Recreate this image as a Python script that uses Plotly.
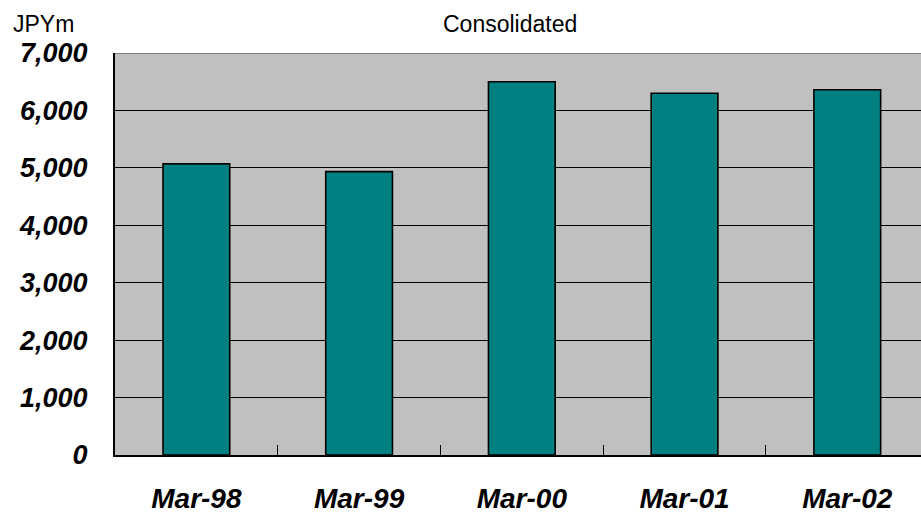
import plotly.graph_objects as go

categories = ["Mar-98", "Mar-99", "Mar-00", "Mar-01", "Mar-02"]
values = [5070, 4935, 6500, 6300, 6360]
y_ticks = [0, 1000, 2000, 3000, 4000, 5000, 6000, 7000]
y_tick_labels = ["0", "1,000", "2,000", "3,000", "4,000", "5,000", "6,000", "7,000"]
title_text = "Consolidated"
unit_text = "JPYm"

W, H = 921, 515
ML, MT, MB, MR = 115, 53, 60, 0
plot_w = W - ML - MR
plot_h = H - MT - MB

FONT = "Liberation Sans, Arial, sans-serif"

fig = go.Figure()
fig.add_trace(go.Bar(
    x=categories, y=values, width=0.41,
    marker=dict(color="#008080", line=dict(color="#000000", width=1.6)),
    hoverinfo="skip",
))

fig.update_layout(
    width=W, height=H,
    margin=dict(l=ML, r=MR, t=MT, b=MB, pad=0),
    paper_bgcolor="#ffffff",
    plot_bgcolor="#C0C0C0",
    showlegend=False,
    font=dict(family=FONT, color="#000000"),
    xaxis=dict(
        type="category",
        range=[-0.5, 4.453],
        tickson="boundaries",
        ticks="inside", ticklen=10, tickwidth=1, tickcolor="#000000",
        showline=True, linecolor="#000000", linewidth=2,
        showgrid=False, zeroline=False,
        tickfont=dict(family=FONT, size=28, weight="bold", style="italic", color="#000000"),
        ticklabelstandoff=17,
        automargin=False,
        fixedrange=True,
    ),
    yaxis=dict(
        range=[0, 7000],
        tickvals=y_ticks, ticktext=y_tick_labels,
        ticks="inside", ticklen=10, tickwidth=1, tickcolor="#000000",
        showline=True, linecolor="#000000", linewidth=2,
        showgrid=True, gridcolor="#000000", gridwidth=1,
        zeroline=False,
        tickfont=dict(family=FONT, size=27, weight="bold", style="italic", color="#000000"),
        ticklabelstandoff=20,
        automargin=False,
        fixedrange=True,
    ),
)

# top border of plot area in gray
fig.add_shape(type="line", xref="paper", yref="y", x0=0, x1=1, y0=7000, y1=7000,
              line=dict(color="#808080", width=2), layer="above")

fig.add_annotation(text=title_text, xref="paper", yref="paper",
                   x=(510 - ML) / plot_w, y=(H - MB - 24) / plot_h,
                   xanchor="center", yanchor="middle", showarrow=False,
                   font=dict(family=FONT, size=23, color="#000000"))
fig.add_annotation(text=unit_text, xref="paper", yref="paper",
                   x=(11 - ML) / plot_w, y=(H - MB - 24) / plot_h,
                   xanchor="left", yanchor="middle", showarrow=False,
                   font=dict(family=FONT, size=23, color="#000000"))

fig.write_html("out.html", config={"displayModeBar": False},
               post_script="document.body.style.margin='0';document.body.style.overflow='hidden';")
